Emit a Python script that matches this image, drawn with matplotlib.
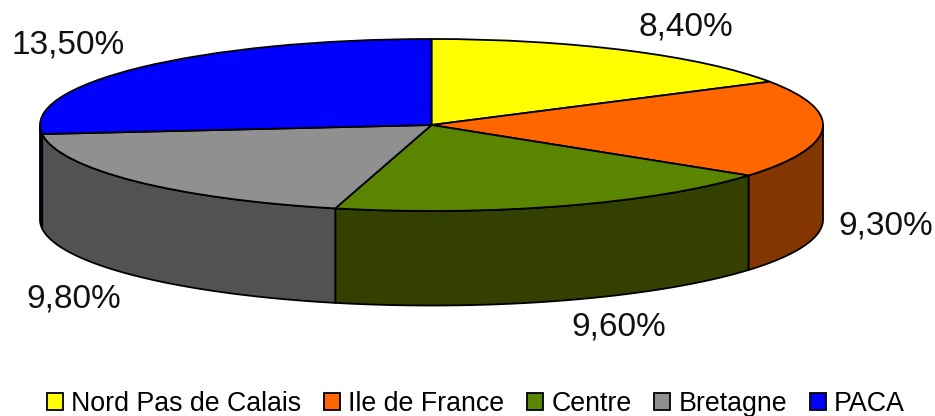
import numpy as np
import matplotlib
matplotlib.use('Agg')
import matplotlib.pyplot as plt

plt.rcParams['font.family'] = ['Liberation Sans', 'DejaVu Sans']

categories = ['Nord Pas de Calais', 'Ile de France', 'Centre', 'Bretagne', 'PACA']
values = [8.4, 9.3, 9.6, 9.8, 13.5]
top_colors = ['#FFFF00', '#FF6600', '#5A8500', '#909090', '#0000FF']
side_colors = ['#808000', '#833600', '#334000', '#525252', '#000080']

W, H = 935, 416
cx, cy, rx, ry, depth = 431.5, 125, 391.5, 86, 94.5 / 86

fig = plt.figure(figsize=(W / 100, H / 100), dpi=100)
ax = fig.add_axes([0, 0, 1, 1])

wedges, _ = ax.pie(values, startangle=90, counterclock=False, colors=top_colors,
                   wedgeprops=dict(edgecolor='black', linewidth=1.3, zorder=3))

# side wall, only the front half of the disc shows
for w, c in zip(wedges, side_colors):
    b = (w.theta2 + 180) % 360 - 180
    a = b - (w.theta2 - w.theta1)
    a, b = max(a, -180), min(b, 0)
    if b <= a:
        continue
    t = np.radians(np.linspace(a, b, 120))
    xs = np.r_[np.cos(t), np.cos(t[::-1])]
    ys = np.r_[np.sin(t), np.sin(t[::-1]) - depth]
    ax.fill(xs, ys, facecolor=c, edgecolor='black', linewidth=1.3, zorder=2)

ax.set_aspect('auto')
ax.set_xlim(-cx / rx, (W - cx) / rx)
ax.set_ylim(-(H - cy) / ry, cy / ry)
ax.axis('off')

# labels, centre positions in pixels
label_pos = [(686, 27), (886, 226), (619, 327), (74, 299), (68, 45)]
for v, (px, py) in zip(values, label_pos):
    fig.text(px / W, 1 - py / H, f'{v:.2f}%'.replace('.', ','), fontsize=24,
             ha='center', va='center', color='#111111')

fig.legend(wedges, categories, loc='center', bbox_to_anchor=(476 / W, 1 - 404 / H),
           ncol=5, frameon=False, fontsize=19.3, handlelength=0.6, handleheight=0.6,
           handletextpad=0.3, columnspacing=0.85, borderpad=0, borderaxespad=0)

fig.savefig('out.png', dpi=100)
